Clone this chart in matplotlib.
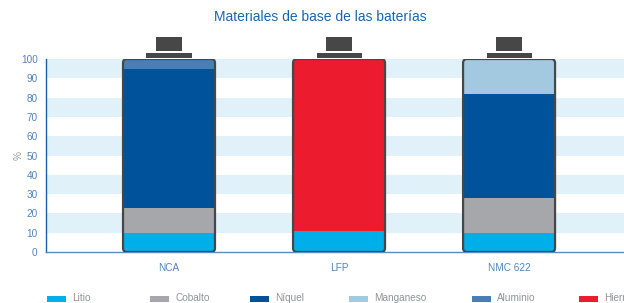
import numpy as np
import matplotlib
matplotlib.use("Agg")
from matplotlib import pyplot as plt
from matplotlib.patches import FancyBboxPatch, Rectangle

plt.rcParams['font.family'] = ['Liberation Sans', 'DejaVu Sans']

title = "Materiales de base de las baterías"
categories = ["NCA", "LFP", "NMC 622"]
materials = ["Litio", "Cobalto", "Níquel", "Manganeso", "Aluminio", "Hierro"]
colors = ["#00aeea", "#a6a7aa", "#00529b", "#a3c9e1", "#4a7fb5", "#ec1c2e"]

# percentage of each material per chemistry (order: NCA, LFP, NMC 622)
litio = [10, 11, 10]
cobalto = [13, 0, 18]
niquel = [72, 0, 54]
manganeso = [0, 0, 18]
aluminio = [5, 0, 0]
hierro = [0, 89, 0]

yticks = list(range(0, 101, 10))


def main():
    fig = plt.figure(figsize=(6.24, 3.03), dpi=100)
    ax = fig.add_axes([46 / 624, 1 - 252 / 303, 1 - 46 / 624, 193 / 303])

    x = np.arange(len(categories))
    width = 0.541
    ax.set_xlim(-0.7235, 2.676)
    ax.set_ylim(0, 100)

    # striped background
    for y0 in range(10, 100, 20):
        ax.axhspan(y0, y0 + 10, color="#e1f1f9", lw=0, zorder=0)

    series = [litio, cobalto, niquel, manganeso, aluminio, hierro]
    px_x = 170.0  # pixels per x unit
    px_y = 1.93   # pixels per y unit
    r = 4.0
    for i in range(len(categories)):
        shape = FancyBboxPatch((x[i] - width / 2, 0), width, 100,
                               boxstyle="round,pad=0,rounding_size=%f" % (r / px_x),
                               mutation_aspect=px_x / px_y,
                               fc="none", ec="#474747", lw=1.6, zorder=4)
        ax.add_patch(shape)
        # battery cap
        ax.add_patch(Rectangle((x[i] - 0.1325, 100.5), 0.265, 2.6,
                               fc="#474747", ec="none", clip_on=False, zorder=4))
        ax.add_patch(Rectangle((x[i] - 0.0765, 104.1), 0.153, 7.3,
                               fc="#474747", ec="none", clip_on=False, zorder=4))
        bottom = 0
        for vals, c in zip(series, colors):
            if vals[i] == 0:
                continue
            bars = ax.bar(x[i], vals[i], width, bottom=bottom, color=c, lw=0, zorder=3)
            bars[0].set_clip_path(shape)
            bottom += vals[i]

    ax.set_yticks(yticks)
    ax.set_xticks(x)
    ax.set_xticklabels(categories)
    ax.tick_params(length=0, labelsize=7.2, labelcolor="#4f83bf")
    ax.tick_params(axis="x", pad=8)
    ax.tick_params(axis="y", pad=6)
    for s in ["top", "right"]:
        ax.spines[s].set_visible(False)
    ax.spines["left"].set_color("#1d5ea8")
    ax.spines["bottom"].set_color("#5a8cc4")
    ax.spines["left"].set_linewidth(1.0)
    ax.spines["bottom"].set_linewidth(1.0)
    ax.set_ylabel("%", fontsize=7.2, color="#9a9a9a", labelpad=-2)

    fig.text(0.513, 1 - 17 / 303, title, ha="center", va="center",
             fontsize=10, color="#1b65ad")

    # legend along the bottom
    leg_x = [47, 150, 250, 349, 472, 579]
    for lx, m, c in zip(leg_x, materials, colors):
        fig.patches.append(Rectangle((lx / 624, 1 / 303), 19 / 624, 6 / 303, fc=c, ec="none",
                                     transform=fig.transFigure, figure=fig))
        fig.text((lx + 25) / 624, 5 / 303, m, ha="left", va="center",
                 fontsize=7.2, color="#909296")

    fig.savefig("out.png", dpi=100)


if __name__ == '__main__':
    main()
